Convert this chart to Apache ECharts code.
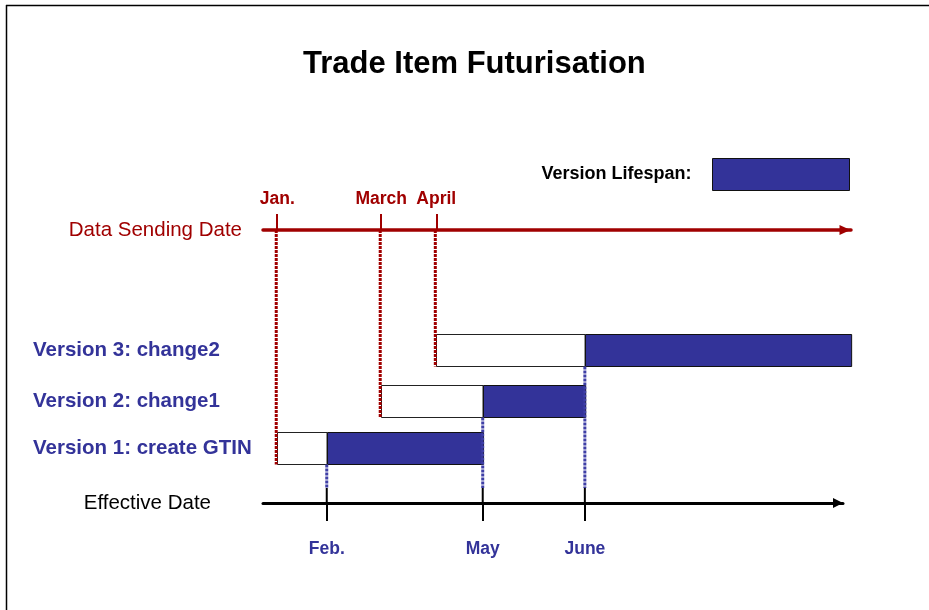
<!DOCTYPE html>
<html>
<head>
<meta charset="utf-8">
<script src="https://cdn.jsdelivr.net/npm/echarts@6/dist/echarts.min.js"></script>
<style>html,body{margin:0;padding:0;background:#fff}#c{width:929px;height:610px}</style>
</head>
<body>
<div id="c"></div>
<script>
// ---- data (timeline in fractional months, rows as lane positions) ----
const versionNames   = ['Version 1: create GTIN', 'Version 2: change1', 'Version 3: change2'];
const versionRows    = [1.1, 2.04, 3.06];
const sendLabels     = ['Jan.', 'March', 'April'];
const sendDates      = [1.0, 2.68, 3.57];
const effLabels      = ['Feb.', 'May', 'June'];
const effectiveDates = [1.8, 4.32, 5.97];
const endDates       = [4.32, 5.97, 10.27];

const RED = '#a00000', BLUE = '#333399';
const FONT = '"Liberation Sans", Arial, Helvetica, sans-serif';

function pick(vals, labels) {
  return function (v) {
    for (let i = 0; i < vals.length; i++) if (Math.abs(vals[i] - v) < 1e-6) return labels[i];
    return '';
  };
}

const seriesData = versionNames.map((n, i) => [sendDates[i], effectiveDates[i], endDates[i], versionRows[i]]);

const chart = echarts.init(document.getElementById('c'), null, {renderer: 'canvas'});
chart.setOption({
  animation: false,
  backgroundColor: '#fff',
  textStyle: {fontFamily: FONT},
  title: {
    text: 'Trade Item Futurisation',
    left: 303, top: 49, padding: 0,
    textStyle: {fontSize: 31, fontWeight: 'bold', color: '#000', fontFamily: FONT}
  },
  legend: {
    right: 79, top: 158, padding: 0,
    itemWidth: 137, itemHeight: 32, align: 'right',
    selectedMode: false,
    data: [{name: 'Version Lifespan:', icon: 'rect',
            itemStyle: {color: BLUE, borderColor: '#111', borderWidth: 1}}],
    textStyle: {fontSize: 18, fontWeight: 'bold', color: '#000', fontFamily: FONT, padding: [6, 16, 0, 0]}
  },
  grid: [
    {left: 263, right: 78, top: 230, bottom: 107},
    {left: 263, right: 86, top: 230, bottom: 107}
  ],
  xAxis: [
    {
      gridIndex: 0, type: 'value', position: 'top', min: 0.77, max: 10.27,
      name: 'Data Sending Date', nameLocation: 'start', nameGap: 21,
      nameTextStyle: {color: RED, fontSize: 20.5, fontFamily: FONT},
      axisLine: {show: true, onZero: false, symbol: ['none', 'triangle'], symbolSize: [10, 11], symbolOffset: [0, -6],
                 lineStyle: {color: RED, width: 3.5}},
      axisTick: {show: true, customValues: sendDates, length: 16, lineStyle: {color: RED, width: 2}},
      axisLabel: {show: true, customValues: sendDates, formatter: pick(sendDates, sendLabels),
                  color: RED, fontSize: 17.5, fontWeight: 'bold', margin: 22, fontFamily: FONT},
      splitLine: {show: false}
    },
    {
      gridIndex: 1, type: 'value', position: 'bottom', min: 0.77, max: 10.14,
      name: 'Effective Date', nameLocation: 'start', nameGap: 52,
      nameTextStyle: {color: '#000', fontSize: 20.5, fontFamily: FONT},
      axisLine: {show: true, onZero: false, symbol: ['none', 'triangle'], symbolSize: [10, 10], symbolOffset: [0, -5],
                 lineStyle: {color: '#000', width: 3}},
      axisTick: {show: true, customValues: effectiveDates, length: 18, lineStyle: {color: '#000', width: 2}},
      axisLabel: {show: true, customValues: effectiveDates, formatter: pick(effectiveDates, effLabels),
                  color: BLUE, fontSize: 17.5, fontWeight: 'bold', margin: 37, fontFamily: FONT},
      splitLine: {show: false}
    }
  ],
  yAxis: [
    {
      gridIndex: 0, type: 'value', min: 0, max: 5.46,
      axisLine: {show: false}, axisTick: {show: false}, splitLine: {show: false},
      axisLabel: {show: true, customValues: versionRows, formatter: pick(versionRows, versionNames),
                  align: 'left', margin: 230, color: BLUE, fontSize: 20.5, fontWeight: 'bold', fontFamily: FONT}
    },
    {gridIndex: 1, type: 'value', min: 0, max: 5.46, show: false}
  ],
  graphic: [
    {type: 'line', shape: {x1: 6, y1: 5.5, x2: 929, y2: 5.5}, style: {stroke: '#000', lineWidth: 1.5}},
    {type: 'line', shape: {x1: 6.5, y1: 5, x2: 6.5, y2: 610}, style: {stroke: '#000', lineWidth: 1.5}}
  ],
  series: [{
    name: 'Version Lifespan:',
    type: 'custom',
    xAxisIndex: 0, yAxisIndex: 0,
    itemStyle: {color: BLUE},
    data: seriesData,
    renderItem: function (params, api) {
      const lane = api.value(3);
      const s = api.coord([api.value(0), lane]);
      const e = api.coord([api.value(1), lane]);
      const end = api.coord([api.value(2), lane]);
      const cs = params.coordSys;
      const redY = cs.y, blackY = cs.y + cs.height;
      const H = 32;
      const top = Math.round(s[1] - H / 2) + 0.5, bot = top + H;
      return {
        type: 'group',
        children: [
          {type: 'rect', shape: {x: Math.round(s[0]) + 0.5, y: top, width: e[0] - s[0], height: H},
           style: {fill: '#fff', stroke: '#222', lineWidth: 1}},
          {type: 'rect', shape: {x: Math.round(e[0]) + 0.5, y: top, width: end[0] - e[0], height: H},
           style: {fill: BLUE, stroke: '#111', lineWidth: 1}},
          {type: 'line', shape: {x1: s[0] - 1, y1: redY, x2: s[0] - 1, y2: bot},
           style: {stroke: RED, lineWidth: 3, lineDash: [3, 1]}},
          {type: 'line', shape: {x1: e[0], y1: bot, x2: e[0], y2: blackY - 15},
           style: {stroke: '#3f3fa6', lineWidth: 3, lineDash: [3, 1]}},
          {type: 'line', shape: {x1: e[0], y1: blackY - 15, x2: e[0], y2: blackY},
           style: {stroke: '#000', lineWidth: 2}}
        ]
      };
    }
  }]
});
</script>
</body>
</html>
